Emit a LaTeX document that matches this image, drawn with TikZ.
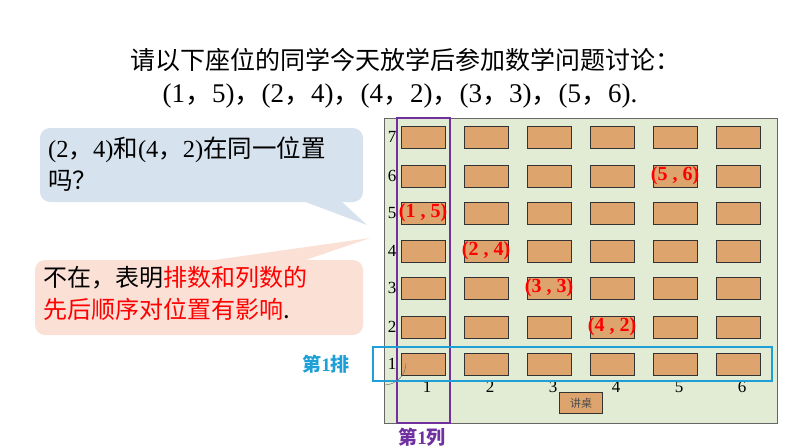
\documentclass[tikz,border=0pt]{standalone}
\usepackage{fontspec}
\setmainfont{Liberation Serif}
\newfontfamily\cjk{Noto Sans CJK SC}
\usetikzlibrary{positioning}
\definecolor{roomgreen}{RGB}{226,236,212}
\definecolor{desk}{RGB}{222,164,110}
\definecolor{askblue}{RGB}{214,227,239}
\definecolor{ansred}{RGB}{251,224,214}
\definecolor{rowblue}{RGB}{30,160,215}
\definecolor{colpurple}{RGB}{112,48,160}
\tikzset{
  seat/.style={draw=black!80,fill=desk,minimum width=44pt,minimum height=22pt,inner sep=0pt},
  seatlabel/.style={text=red,font=\bfseries\fontsize{20}{20}\selectfont,inner sep=0pt},
  num/.style={font=\fontsize{17}{17}\selectfont,inner sep=0pt}
}
\begin{document}
\begin{tikzpicture}[x=1pt,y=-1pt]
\useasboundingbox (0,0) rectangle (794,447);
%title
\node (t1) at (405,60) {\cjk\fontsize{25}{25}\selectfont 请以下座位的同学今天放学后参加数学问题讨论：};
\node (t2) at (400,96) {\fontsize{27}{27}\selectfont (1{\cjk，}5){\cjk，}(2{\cjk，}4){\cjk，}(4{\cjk，}2){\cjk，}(3{\cjk，}3){\cjk，}(5{\cjk，}6).};
%callouts
\fill[askblue,rounded corners=10pt] (40,128) rectangle (363,202);
\fill[askblue] (300,200) -- (367,225) -- (340,200) -- cycle;
\node[anchor=north west,align=left,font=\fontsize{24.5}{32}\selectfont,inner sep=0pt] (ask) at (48,137)
  {(2{\cjk，}4){\cjk 和}(4{\cjk，}2){\cjk 在同一位置}\\{\cjk 吗？}};
\fill[ansred,rounded corners=10pt] (35,260) rectangle (363,335);
\fill[ansred] (200,262) -- (370,238) -- (300,262) -- cycle;
\node[anchor=north west,align=left,font=\cjk\fontsize{24}{32}\selectfont,inner sep=0pt] (ans) at (43,266)
  {不在，表明\textcolor{red}{排数和列数的}\\\textcolor{red}{先后顺序对位置有影响}.};
%classroom
\draw[black!60,fill=roomgreen] (384,118) rectangle (777,423);
\foreach \c/\x in {1/423,2/486,3/549,4/612,5/675,6/738}{
  \foreach \r/\y in {7/137,6/176,5/213,4/251,3/288,2/327,1/364}{
    \node[seat] (s\c\r) at (\x,\y) {};
  }
  \node[num] (c\c) at (\x+4,387) {\c};
}
\foreach \r/\y in {7/137,6/176,5/213,4/251,3/288,2/327,1/364}
  \node[num] (r\r) at (392,\y) {\r};
\node[draw=black!80,fill=desk,minimum width=43pt,minimum height=21pt,font=\cjk\fontsize{11}{11}\selectfont,text=black!70] (podium) at (581,403) {讲桌};
\node[seatlabel] at (s15) {(1 , 5)};
\node[seatlabel] at (s24) {(2 , 4)};
\node[seatlabel] at (s33) {(3 , 3)};
\node[seatlabel] at (s42) {(4 , 2)};
\node[seatlabel] at (s56) {(5 , 6)};
%row and column marks
\draw[colpurple,line width=1.2pt] (397,118) rectangle (450,423);
\draw[rowblue,line width=1.2pt] (373,347) rectangle (772,381);
\draw[black!60] (384,385) arc[start angle=90,end angle=0,radius=22];
\draw[black!60] (384,423) -- (397,423);
\node[text=rowblue,font=\cjk\bfseries\fontsize{19}{19}\selectfont] (row1) at (326,364) {第\textrm{1}排};
\node[text=colpurple,font=\cjk\bfseries\fontsize{19}{19}\selectfont] (col1) at (422,437) {第\textrm{1}列};
\end{tikzpicture}
\end{document}
